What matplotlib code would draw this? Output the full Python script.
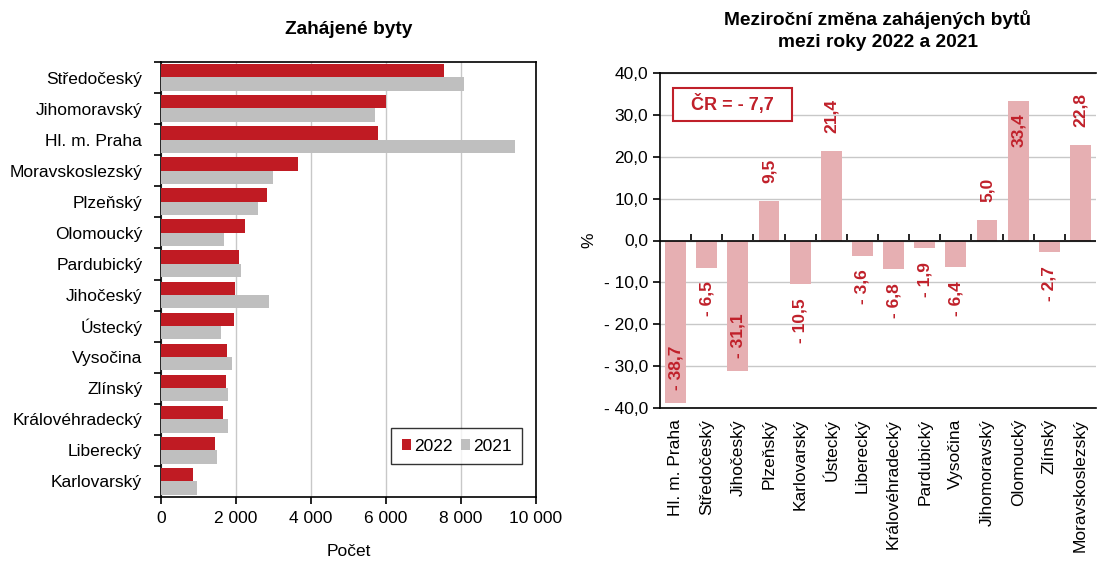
import matplotlib
matplotlib.use("Agg")
import matplotlib.pyplot as plt
import numpy as np
from matplotlib.ticker import FuncFormatter, MultipleLocator
from matplotlib.patches import Rectangle

plt.rcParams['font.family'] = ['Liberation Sans', 'DejaVu Sans']

# Left chart data
regions_left = ["Středočeský", "Jihomoravský", "Hl. m. Praha", "Moravskoslezský", "Plzeňský",
                "Olomoucký", "Pardubický", "Jihočeský", "Ústecký", "Vysočina", "Zlínský",
                "Královéhradecký", "Liberecký", "Karlovarský"]
byty_2022 = [7550, 6000, 5790, 3650, 2820, 2250, 2080, 1980, 1950, 1760, 1730, 1660, 1440, 850]
byty_2021 = [8080, 5710, 9440, 2980, 2580, 1690, 2120, 2870, 1610, 1880, 1780, 1780, 1490, 955]

# Right chart data
regions_right = ["Hl. m. Praha", "Středočeský", "Jihočeský", "Plzeňský", "Karlovarský", "Ústecký",
                 "Liberecký", "Královéhradecký", "Pardubický", "Vysočina", "Jihomoravský",
                 "Olomoucký", "Zlínský", "Moravskoslezský"]
zmena = [-38.7, -6.5, -31.1, 9.5, -10.5, 21.4, -3.6, -6.8, -1.9, -6.4, 5.0, 33.4, -2.7, 22.8]
cr_value = -7.7

RED = "#C01B23"
GRAY = "#BFBFBF"
PINK = "#E6AFB2"
LABEL_RED = "#C0202A"
GRID = "#C8C8C8"
FS = 12.5
TFS = 13.8

fig = plt.figure(figsize=(10.97, 5.63), dpi=100)

# ---------- Left chart ----------
axL = fig.add_axes([161/1097, 1-497/563, (536-161)/1097, (497-62)/563])
n = len(regions_left)
y = np.arange(n)
h = 0.43
axL.barh(y - h/2 - 0.005, byty_2022, height=h, color=RED, label="2022", zorder=3)
axL.barh(y + h/2 - 0.005, byty_2021, height=h, color=GRAY, label="2021", zorder=3)
axL.set_ylim(n - 0.5, -0.5)
axL.set_xlim(0, 10000)
axL.set_yticks(y)
axL.set_yticklabels(regions_left, fontsize=FS)
axL.set_yticks(np.arange(-0.5, n, 1), minor=True)
axL.tick_params(axis='y', which='major', length=0, pad=13.5)
axL.tick_params(axis='y', which='minor', length=5, width=1.2, direction='out')
axL.xaxis.set_major_locator(MultipleLocator(2000))
axL.xaxis.set_major_formatter(FuncFormatter(lambda v, p: f"{int(v):,}".replace(",", " ")))
axL.tick_params(axis='x', labelsize=FS, length=5, width=1.2, direction='out', pad=5)
axL.grid(axis='x', color=GRID, linewidth=1, zorder=0)
for s in axL.spines.values():
    s.set_linewidth(1.2)
    s.set_color('black')
axL.set_xlabel("Počet", fontsize=FS, labelpad=13)
axL.set_title("Zahájené byty", fontsize=TFS, fontweight='bold', pad=20)
leg = axL.legend(loc='lower right', bbox_to_anchor=(0.963, 0.076), fontsize=FS, frameon=True,
                 fancybox=False, edgecolor='black', handlelength=0.55, handleheight=0.55,
                 handletextpad=0.15, columnspacing=0.5, ncol=2, borderpad=0.6, borderaxespad=0)
leg.get_frame().set_linewidth(1.0)

# ---------- Right chart ----------
axR = fig.add_axes([660/1097, 1-408/563, (1096-660)/1097, (408-73)/563])
m = len(regions_right)
x = np.arange(m)
axR.bar(x, zmena, width=0.67, color=PINK, zorder=3)
axR.set_xlim(-0.5, m - 0.5)
axR.set_ylim(-40, 40)
axR.yaxis.set_major_locator(MultipleLocator(10))
axR.yaxis.set_major_formatter(FuncFormatter(
    lambda v, p: (f"{v:.1f}".replace(".", ",") if v >= 0 else "- " + f"{-v:.1f}".replace(".", ","))))
axR.tick_params(axis='y', labelsize=FS, length=5, width=1.2, direction='out')
axR.grid(axis='y', color=GRID, linewidth=1, zorder=0)
axR.set_xticks(x)
axR.set_xticklabels(regions_right, rotation=90, fontsize=FS)
axR.tick_params(axis='x', length=0, pad=8)
for s in axR.spines.values():
    s.set_linewidth(1.2)
    s.set_color('black')
axR.spines['right'].set_visible(False)
axR.axhline(0, color='black', linewidth=1.2, zorder=4)
sec = axR.secondary_xaxis(0.5)
sec.set_xticks(np.arange(-0.5, m, 1)[1:-1])
sec.tick_params(axis='x', length=4, width=1.2, direction='out', labelbottom=False, labeltop=False)
sec.spines['bottom'].set_visible(False)
sec.spines['top'].set_visible(False)
axR.set_ylabel("%", fontsize=FS, labelpad=5)
axR.set_title("Meziroční změna zahájených bytů\nmezi roky 2022 a 2021", fontsize=TFS,
              fontweight='bold', pad=19, linespacing=1.35)

def fmt(v):
    s = f"{abs(v):.1f}".replace(".", ",")
    return s if v >= 0 else "- " + s

for xi, v in zip(x, zmena):
    if v > 30:
        xy, off, va = (xi, v), (0, -9), 'top'
    elif v >= 0:
        xy, off, va = (xi, v), (0, 13), 'bottom'
    elif v < -25:
        xy, off, va = (xi, v), (0, 9), 'bottom'
    else:
        xy, off, va = (xi, v), (0, -10), 'top'
    axR.annotate(fmt(v), xy, xytext=off, textcoords='offset points',
                 rotation=90, ha='center', va=va, color=LABEL_RED,
                 fontsize=FS, fontweight='bold', zorder=5)

axR.add_patch(Rectangle((0.0298, 0.857), 0.273, 0.0985, transform=axR.transAxes,
                        facecolor='white', edgecolor=LABEL_RED, linewidth=1.5, zorder=6))
axR.text(0.0298 + 0.273/2, 0.857 + 0.0985/2, "ČR = " + fmt(cr_value), transform=axR.transAxes,
         ha='center', va='center', fontsize=13, fontweight='bold', color=LABEL_RED, zorder=7)

fig.savefig("out.png", dpi=100)
